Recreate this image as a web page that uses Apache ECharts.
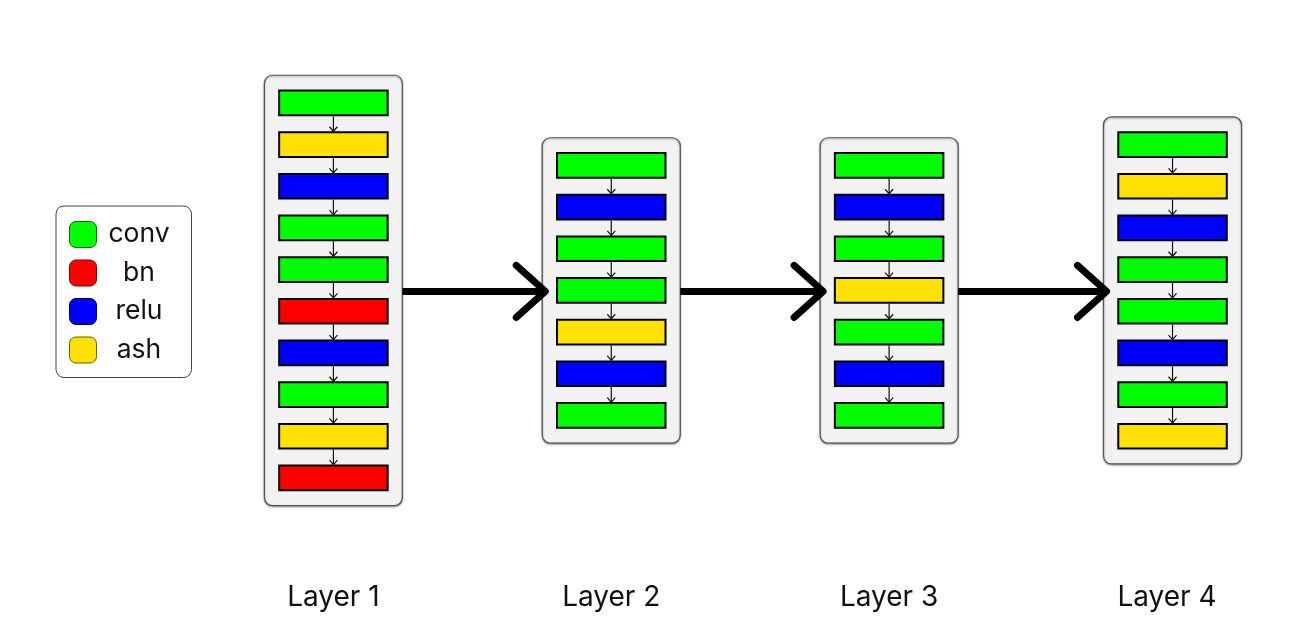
<!DOCTYPE html>
<html>
<head>
<meta charset="utf-8">
<script src="https://cdn.jsdelivr.net/npm/echarts@6/dist/echarts.min.js"></script>
<style>
html,body{margin:0;padding:0;background:#fff;}
#chart{width:1292px;height:625px;}
</style>
</head>
<body>
<div id="chart"></div>
<script>
// ---- data ----
const layerNames = ['Layer 1', 'Layer 2', 'Layer 3', 'Layer 4'];
const layerX = [0, 1, 2, 3.02];          // layer box positions (layer units)
const labelX = [0, 1, 2, 3];             // label positions
const layerBlocks = [
  ['conv', 'ash', 'relu', 'conv', 'conv', 'bn', 'relu', 'conv', 'ash', 'bn'],
  ['conv', 'relu', 'conv', 'conv', 'ash', 'relu', 'conv'],
  ['conv', 'relu', 'conv', 'ash', 'conv', 'relu', 'conv'],
  ['conv', 'ash', 'relu', 'conv', 'conv', 'relu', 'conv', 'ash']
];
const blockTypes = ['conv', 'bn', 'relu', 'ash'];
const typeColors = { conv: '#00ff00', bn: '#ff0000', relu: '#0000ff', ash: '#ffe100' };
const typeBorders = { conv: '#0b6a0b', bn: '#7a0000', relu: '#00005e', ash: '#6a5c00' };

// ---- derived ----
function slotY(n, i) { return i - (n - 1) / 2; }

const BW = 108.5, BH = 24.7, PAD = 14.3, BOXW = 138;

const boxData = layerBlocks.map((b, l) => [layerX[l], b.length]);
const flowData = [];
layerBlocks.forEach((b, l) => {
  for (let i = 0; i < b.length - 1; i++) flowData.push([layerX[l], slotY(b.length, i), slotY(b.length, i + 1)]);
});
const linkData = [];
for (let l = 0; l < layerX.length - 1; l++) linkData.push([layerX[l], layerX[l + 1]]);
const labelData = layerNames.map((n, i) => [labelX[i], 7.37, n]);

const typeSeries = blockTypes.map(t => {
  const data = [];
  layerBlocks.forEach((b, l) => b.forEach((bt, i) => { if (bt === t) data.push([layerX[l], slotY(b.length, i)]); }));
  return {
    name: t,
    type: 'custom',
    z: 3,
    itemStyle: { color: typeColors[t] },
    data: data,
    renderItem: function (params, api) {
      const c = api.coord([api.value(0), api.value(1)]);
      return {
        type: 'rect',
        shape: { x: c[0] - BW / 2, y: c[1] - BH / 2, width: BW, height: BH },
        style: { fill: typeColors[t], stroke: '#000', lineWidth: 2 }
      };
    }
  };
});

const chart = echarts.init(document.getElementById('chart'));
chart.setOption({
  animation: false,
  backgroundColor: '#fff',
  grid: { left: 0, right: 0, top: 0, bottom: 0 },
  xAxis: { type: 'value', min: -1.2, max: 3.45, show: false },
  yAxis: { type: 'value', min: -6.97, max: 8.03, inverse: true, show: false },
  legend: {
    orient: 'vertical',
    left: 56, top: 206,
    padding: [15, 15, 14, 13],
    itemWidth: 27, itemHeight: 26, itemGap: 11.5,
    icon: 'roundRect',
    backgroundColor: '#fff',
    borderColor: '#444', borderWidth: 1, borderRadius: 8,
    selectedMode: false,
    data: blockTypes.map(t => ({ name: t, itemStyle: { color: typeColors[t], borderColor: typeBorders[t], borderWidth: 1 } })),
    formatter: name => '{t|' + name + '}',
    textStyle: {
      rich: { t: { width: 75, align: 'center', fontSize: 26.5, lineHeight: 26, fontFamily: 'Inter', color: '#111' } }
    }
  },
  series: [
    {
      name: 'boxes', type: 'custom', z: 1, silent: true, data: boxData,
      renderItem: function (params, api) {
        const n = api.value(1);
        const top = api.coord([api.value(0), slotY(n, 0)]);
        const bot = api.coord([api.value(0), slotY(n, n - 1)]);
        const y0 = top[1] - BH / 2 - 1 - PAD, y1 = bot[1] + BH / 2 + 1 + PAD;
        return {
          type: 'rect',
          shape: { x: top[0] - BOXW / 2, y: y0, width: BOXW, height: y1 - y0, r: 8 },
          style: { fill: '#f2f2f2', stroke: '#555', lineWidth: 1.2, shadowBlur: 2, shadowOffsetY: 1, shadowColor: 'rgba(0,0,0,0.35)' }
        };
      }
    },
    {
      name: 'flow', type: 'custom', z: 2, silent: true, data: flowData,
      renderItem: function (params, api) {
        const a = api.coord([api.value(0), api.value(1)]);
        const b = api.coord([api.value(0), api.value(2)]);
        const ya = a[1] + BH / 2 + 1, yb = b[1] - BH / 2 - 1;
        return {
          type: 'group',
          children: [
            { type: 'line', shape: { x1: a[0], y1: ya, x2: a[0], y2: yb }, style: { stroke: '#111', lineWidth: 1.2 } },
            { type: 'polyline', shape: { points: [[a[0] - 4, yb - 4.5], [a[0], yb], [a[0] + 4, yb - 4.5]] }, style: { stroke: '#111', lineWidth: 1.2, fill: null } }
          ]
        };
      }
    },
    ...typeSeries,
    {
      name: 'links', type: 'custom', z: 4, silent: true, data: linkData,
      renderItem: function (params, api) {
        const a = api.coord([api.value(0), 0]);
        const b = api.coord([api.value(1), 0]);
        const y = a[1] + 1;
        const x0 = a[0] + BOXW / 2, x1 = b[0] - BOXW / 2 + 3;
        return {
          type: 'group',
          children: [
            { type: 'line', shape: { x1: x0, y1: y, x2: x1 - 3, y2: y }, style: { stroke: '#000', lineWidth: 7, lineCap: 'butt' } },
            { type: 'polyline', shape: { points: [[x1 - 29, y - 26], [x1, y], [x1 - 29, y + 26]] }, style: { stroke: '#000', lineWidth: 7, lineCap: 'round', lineJoin: 'round', fill: null } }
          ]
        };
      }
    },
    {
      name: 'labels', type: 'custom', z: 5, silent: true, data: labelData,
      renderItem: function (params, api) {
        const c = api.coord([api.value(0), api.value(1)]);
        return {
          type: 'text',
          style: { x: c[0], y: c[1], text: labelData[params.dataIndex][2], fill: '#111', font: '28px Inter', textAlign: 'center', textVerticalAlign: 'middle' }
        };
      }
    }
  ]
});
</script>
</body>
</html>
